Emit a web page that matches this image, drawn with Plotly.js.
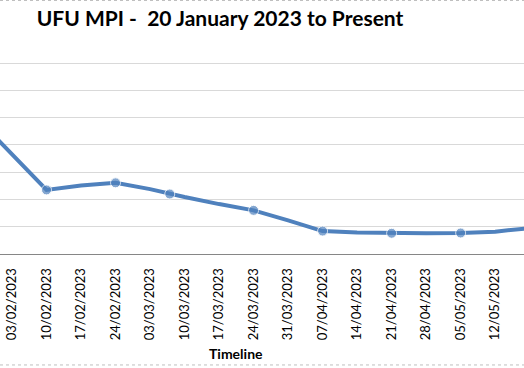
<!DOCTYPE html>
<html>
<head>
<meta charset="utf-8">
<script src="https://cdn.plot.ly/plotly-3.0.1.min.js"></script>
<style>
  html, body { margin: 0; padding: 0; background: #ffffff; overflow: hidden; }
  #chart { width: 524px; height: 368px; }
</style>
</head>
<body>
<div id="chart"></div>
<script>
// Weekly UFU MPI readings
const dates = ['2023-01-27','2023-02-03','2023-02-10','2023-02-17','2023-02-24','2023-03-03','2023-03-07','2023-03-10','2023-03-17','2023-03-24','2023-03-31','2023-04-07','2023-04-14','2023-04-21','2023-04-28','2023-05-05','2023-05-12','2023-05-19'];
const mpiValues = [4.97, 3.66, 2.35, 2.51, 2.61, 2.38, 2.20, 2.09, 1.83, 1.60, 1.23, 0.84, 0.79, 0.76, 0.76, 0.77, 0.82, 0.95];
// Points that carry a marker
const markedDates = ['2023-02-10','2023-02-24','2023-03-07','2023-03-24','2023-04-07','2023-04-21','2023-05-05','2023-05-19'];
// Tick labels on the date axis
const tickDates = ['2023-01-27','2023-02-03','2023-02-10','2023-02-17','2023-02-24','2023-03-03','2023-03-10','2023-03-17','2023-03-24','2023-03-31','2023-04-07','2023-04-14','2023-04-21','2023-04-28','2023-05-05','2023-05-12','2023-05-19'];
const tickLabels = ['27/01/2023','03/02/2023','10/02/2023','17/02/2023','24/02/2023','03/03/2023','10/03/2023','17/03/2023','24/03/2023','31/03/2023','07/04/2023','14/04/2023','21/04/2023','28/04/2023','05/05/2023','12/05/2023','19/05/2023'];

const markerSizes = dates.map(d => markedDates.includes(d) ? 10 : 0);

const trace = {
  x: dates,
  y: mpiValues,
  type: 'scatter',
  mode: 'lines+markers',
  line: { color: '#4f81bd', width: 4 },
  marker: { color: '#4f81bd', size: markerSizes },
  cliponaxis: true,
  hoverinfo: 'skip'
};

const layout = {
  width: 524,
  height: 368,
  margin: { l: 0, r: 0, t: 59, b: 114, pad: 0 },
  paper_bgcolor: '#ffffff',
  plot_bgcolor: '#ffffff',
  showlegend: false,
  title: {
    text: '<b>UFU MPI -  20 January 2023 to Present</b>',
    font: { family: 'Lato, "Open Sans", sans-serif', size: 21, color: '#000000' },
    xref: 'container', yref: 'container',
    x: 0.42, xanchor: 'center',
    y: 0.948, yanchor: 'middle'
  },
  xaxis: {
    type: 'date',
    range: ['2023-01-31 13:35', '2023-05-17 20:24'],
    tickmode: 'array',
    tickvals: tickDates,
    ticktext: tickLabels,
    tickangle: -90,
    ticks: '',
    ticklabelstandoff: 8,
    tickfont: { family: 'Lato, "Open Sans", sans-serif', size: 13, color: '#000000' },
    showgrid: false,
    zeroline: false,
    showline: true,
    linecolor: '#868686',
    linewidth: 1,
    fixedrange: true
  },
  yaxis: {
    range: [0, 7.15],
    dtick: 1,
    tick0: 0,
    showticklabels: false,
    ticks: '',
    showgrid: true,
    gridcolor: '#d9d9d9',
    gridwidth: 1,
    zeroline: false,
    showline: false,
    fixedrange: true
  },
  annotations: [{
    text: '<b>Timeline</b>',
    xref: 'paper', yref: 'paper',
    x: 0.45, y: -0.508,
    xanchor: 'center', yanchor: 'middle',
    showarrow: false,
    font: { family: 'Lato, "Open Sans", sans-serif', size: 14, color: '#000000' }
  }],
  shapes: [
    { type: 'line', xref: 'paper', yref: 'paper', x0: 0, x1: 1, y0: -0.569, y1: -0.569,
      line: { color: '#bfbfbf', width: 1, dash: 'dot' } },
    { type: 'line', xref: 'paper', yref: 'paper', x0: 0, x1: 1, y0: 1.3, y1: 1.3,
      line: { color: '#bfbfbf', width: 1, dash: 'dot' } }
  ]
};

Plotly.newPlot('chart', [trace], layout, { staticPlot: true, displayModeBar: false });
</script>
</body>
</html>
